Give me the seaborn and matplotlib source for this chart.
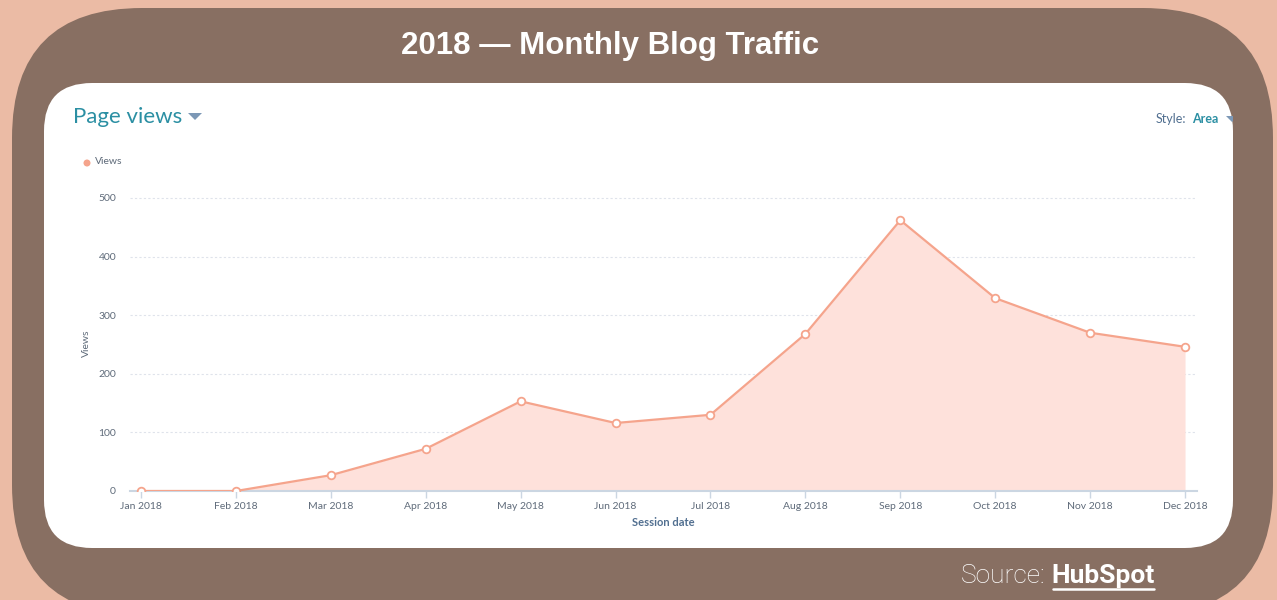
import numpy as np
import pandas as pd
import matplotlib
matplotlib.use("Agg")
import matplotlib.pyplot as plt
import seaborn as sns
from matplotlib.patches import FancyBboxPatch, Polygon, Circle

# data
months = ['Jan 2018', 'Feb 2018', 'Mar 2018', 'Apr 2018', 'May 2018', 'Jun 2018',
          'Jul 2018', 'Aug 2018', 'Sep 2018', 'Oct 2018', 'Nov 2018', 'Dec 2018']
views = [0, 0, 27, 72, 153, 116, 130, 268, 462, 329, 270, 246]
y_ticks = [0, 100, 200, 300, 400, 500]

title = "2018 \u2014 Monthly Blog Traffic"

PEACH = "#EBBBA5"
BROWN = "#886F62"
LINE = "#F5A48C"
FILL = "#FEE1DB"
TEAL = "#2B8FA3"
SLATE = "#516F90"
GREY = "#5F6B7A"
AXIS = "#CBD6E2"

sns.set_theme(style="white")
plt.rcParams['font.family'] = ['Lato', 'DejaVu Sans']

W, H = 1277, 600
fig = plt.figure(figsize=(W / 100, H / 100), dpi=100)
fig.patch.set_facecolor(PEACH)

# background frame drawn in pixel coordinates
bg = fig.add_axes([0, 0, 1, 1], zorder=0)
bg.set_xlim(0, W)
bg.set_ylim(H, 0)
bg.axis("off")
bg.add_patch(FancyBboxPatch((12, 8), 1261, 607, boxstyle="round,pad=0,rounding_size=130",
                            facecolor=BROWN, edgecolor="none", zorder=1))
bg.add_patch(FancyBboxPatch((44, 83), 1189, 465, boxstyle="round,pad=0,rounding_size=48",
                            facecolor="white", edgecolor="none", zorder=1))
bg.text(610, 46, title, color="white", fontsize=22.5, fontweight="bold",
        family=["Liberation Sans", "DejaVu Sans"], ha="center", va="center", zorder=3)

# hubspot header bits
bg.text(73, 117, "Page views", color=TEAL, fontsize=16, ha="left", va="center", zorder=3)
bg.add_patch(Polygon([[188, 113], [202, 113], [195, 120]], closed=True,
                     facecolor="#7C98B6", edgecolor="none", zorder=3))
bg.text(1186, 119, "Style:", color=SLATE, fontsize=9, ha="right", va="center", zorder=3)
bg.text(1192, 119, "Area", color=TEAL, fontsize=9, fontweight="bold", ha="left", va="center", zorder=3)
# dropdown arrow cut off by the frame edge
bg.add_patch(Polygon([[1226, 116], [1233, 116], [1233, 121], [1232, 122]], closed=True,
                     facecolor="#7C98B6", edgecolor="none", zorder=3))
bg.add_patch(Circle((87, 163), 3.5, facecolor=LINE, edgecolor="none", zorder=3))
bg.text(95, 162, "Views", color=GREY, fontsize=7.5, ha="left", va="center", zorder=3)

# main chart
df = pd.DataFrame({"pos": np.arange(len(months)), "views": views})
ax = fig.add_axes([130 / W, (H - 491) / H, (1197 - 130) / W, 296 / H], zorder=2)
ax.patch.set_alpha(0)

ax.fill_between(df["pos"], df["views"], color=FILL, lw=0, zorder=1)
sns.lineplot(data=df, x="pos", y="views", ax=ax, color=LINE, lw=1.6,
             marker="o", markersize=5.5, markerfacecolor="white",
             markeredgecolor=LINE, markeredgewidth=1.3, zorder=3)

ax.set_xlim(-0.116, 11.126)
ax.set_ylim(0, 505)
ax.set_xticks(df["pos"])
ax.set_xticklabels(months)
ax.set_yticks(y_ticks)
ax.yaxis.grid(True, color="#DFE3EB", lw=0.8, linestyle=(0, (2, 2)))
ax.xaxis.grid(False)
for s in ["top", "right", "left"]:
    ax.spines[s].set_visible(False)
ax.spines["bottom"].set_color(AXIS)
ax.spines["bottom"].set_linewidth(1.5)
ax.tick_params(axis="x", direction="out", length=5, width=1, color=AXIS,
               labelsize=7.5, labelcolor=GREY, pad=3, bottom=True)
ax.tick_params(axis="y", length=0, labelsize=7.5, labelcolor=GREY, pad=10)
ax.set_xlabel("Session date", color=SLATE, fontsize=8, fontweight="bold", labelpad=4)
ax.set_ylabel("Views", color=GREY, fontsize=7.5, labelpad=5)

# source line with underlined link
fig.canvas.draw()
link = bg.text(1155, 576, "HubSpot", color="white", fontsize=19, fontweight="bold",
               family=["Roboto", "DejaVu Sans"], ha="right", va="center", zorder=3)
r = fig.canvas.get_renderer()
bb = link.get_window_extent(renderer=r).transformed(bg.transData.inverted())
x0, x1 = min(bb.x0, bb.x1), max(bb.x0, bb.x1)
bg.plot([x0 + 1, x1 - 1], [589, 589], color="white", lw=1.8, zorder=3)
bg.text(x0 - 6, 576, "Source:", color="white", fontsize=19, fontweight="light",
        family=["Roboto", "DejaVu Sans"], ha="right", va="center", zorder=3)

fig.savefig("out.png", dpi=100, facecolor=PEACH)
